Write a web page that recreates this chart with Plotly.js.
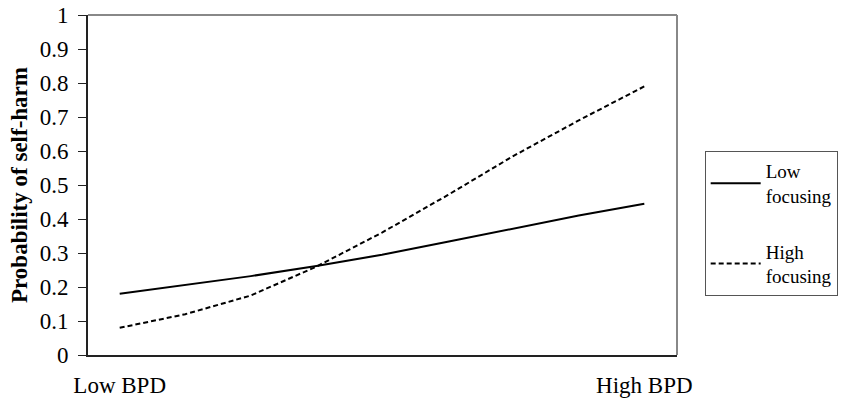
<!DOCTYPE html>
<html>
<head>
<meta charset="utf-8">
<script src="https://cdn.plot.ly/plotly-3.0.1.min.js"></script>
<style>html,body{margin:0;padding:0;background:#fff;}#chart{width:850px;height:400px;}</style>
</head>
<body>
<div id="chart"></div>
<script>
// BPD level from low (0) to high (1)
const bpdLevels = [0, 0.125, 0.25, 0.375, 0.5, 0.625, 0.75, 0.875, 1];
const lowFocusing = [0.18, 0.205, 0.232, 0.262, 0.295, 0.333, 0.372, 0.41, 0.445];
const highFocusing = [0.08, 0.12, 0.175, 0.26, 0.36, 0.47, 0.585, 0.69, 0.79];
const xTickVals = [0, 1];
const xTickText = ["Low BPD", "High BPD"];
const yTickVals = [0, 0.1, 0.2, 0.3, 0.4, 0.5, 0.6, 0.7, 0.8, 0.9, 1];
const yTickText = ["0", "0.1", "0.2", "0.3", "0.4", "0.5", "0.6", "0.7", "0.8", "0.9", "1"];

const serif = "Liberation Serif";

const traces = [
  {x: bpdLevels, y: lowFocusing, name: "Low<br>focusing", mode: "lines", legendgroup: "a",
   line: {color: "#000", width: 2}},
  {x: bpdLevels, y: highFocusing, name: "High<br>focusing", mode: "lines", legendgroup: "b",
   line: {color: "#000", width: 2, dash: "5px,3px"}}
];

const layout = {
  width: 850, height: 400,
  margin: {l: 88, r: 167, t: 15, b: 45},
  paper_bgcolor: "#fff", plot_bgcolor: "#fff",
  font: {family: serif, color: "#000", size: 19},
  showlegend: true,
  legend: {
    x: 1.047, xanchor: "left", y: 0.6, yanchor: "top",
    bordercolor: "#555", borderwidth: 1, bgcolor: "#fff",
    font: {family: serif, size: 19, color: "#000"},
    traceorder: "grouped", tracegroupgap: 28, itemwidth: 50
  },
  xaxis: {
    range: [-0.0604, 1.0623],
    tickvals: xTickVals, ticktext: xTickText,
    showgrid: false, zeroline: false,
    showline: true, linecolor: "#222", linewidth: 2,
    ticks: "", tickfont: {size: 23, family: serif},
    ticklabelstandoff: 8
  },
  yaxis: {
    range: [0, 1],
    tickvals: yTickVals, ticktext: yTickText,
    showgrid: false, zeroline: false,
    showline: true, linecolor: "#222", linewidth: 2,
    ticks: "outside", ticklen: 8, tickcolor: "#222", tickwidth: 1,
    tickfont: {size: 23, family: serif},
    ticklabelstandoff: 5,
    title: {text: "<b>Probability of self-harm</b>", font: {size: 23, family: serif}, standoff: 6}
  },
  shapes: [
    {type: "line", xref: "paper", yref: "paper", x0: 0, x1: 1, y0: 1, y1: 1, line: {color: "#888", width: 2}},
    {type: "line", xref: "paper", yref: "paper", x0: 1, x1: 1, y0: 0, y1: 1, line: {color: "#888", width: 2}}
  ]
};

Plotly.newPlot("chart", traces, layout, {staticPlot: true, displayModeBar: false});
</script>
</body>
</html>
